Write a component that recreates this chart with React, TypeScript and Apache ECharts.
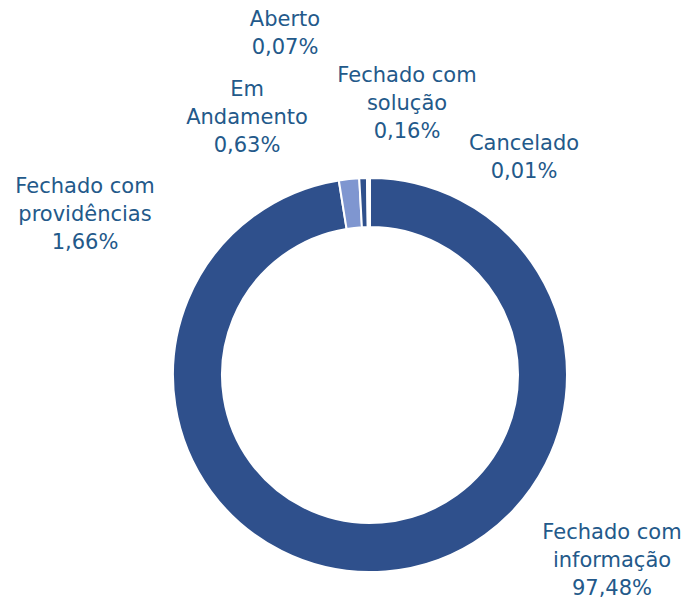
import React, { useEffect, useRef } from "react";
import * as echarts from "echarts";

const categories = [
  "Fechado com\ninformação",
  "Fechado com\nprovidências",
  "Em\nAndamento",
  "Aberto",
  "Fechado com\nsolução",
  "Cancelado",
];
const values = [97.48, 1.66, 0.63, 0.07, 0.16, 0.01];
const colors = ["#2F508C", "#7F96D0", "#2F508C", "#2F508C", "#2F508C", "#2F508C"];
// label block centers (px)
const labelPos = [
  [612, 560],
  [85, 214],
  [247, 117],
  [285, 33],
  [407, 103],
  [524, 157],
];

export default function App() {
  const ref = useRef<HTMLDivElement>(null);
  useEffect(() => {
    document.body.style.margin = "0";
    const chart = echarts.init(ref.current!, undefined, { renderer: "svg" });
    chart.setOption({
      animation: false,
      backgroundColor: "#ffffff",
      series: [
        {
          type: "pie",
          center: [370, 375],
          radius: [148, 197],
          startAngle: 90,
          clockwise: true,
          avoidLabelOverlap: false,
          itemStyle: { borderColor: "#ffffff", borderWidth: 2 },
          label: {
            show: true,
            position: "outside",
            color: "#23598A",
            fontFamily: "DejaVu Sans",
            fontSize: 21,
            lineHeight: 28,
            align: "center",
            formatter: (p: any) =>
              p.name + "\n" + p.value.toFixed(2).replace(".", ",") + "%",
          },
          labelLine: { show: false },
          labelLayout: (p: any) => ({
            x: labelPos[p.dataIndex][0],
            y: labelPos[p.dataIndex][1],
            align: "center",
            verticalAlign: "middle",
          }),
          data: categories.map((c, i) => ({
            name: c,
            value: values[i],
            itemStyle: { color: colors[i] },
          })),
        },
      ],
    });
    return () => chart.dispose();
  }, []);
  return <div ref={ref} style={{ width: 686, height: 605 }} />;
}
